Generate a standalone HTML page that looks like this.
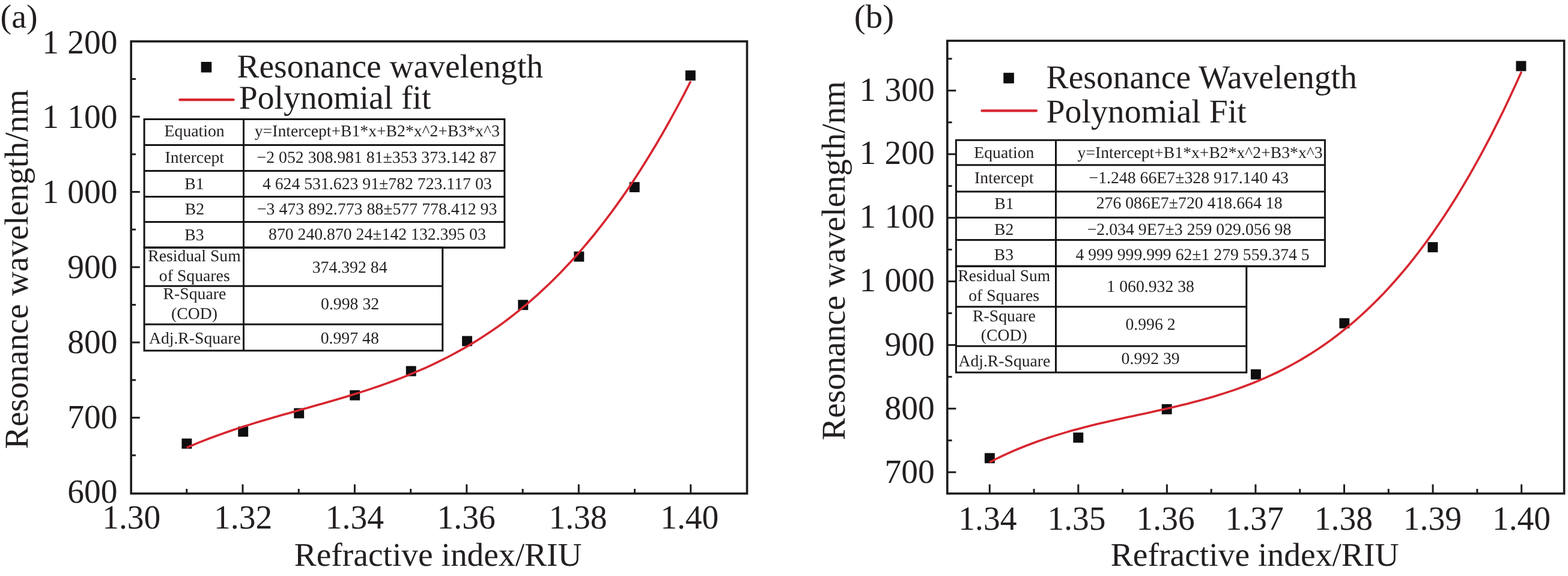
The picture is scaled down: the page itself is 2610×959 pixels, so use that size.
<!DOCTYPE html>
<html lang="en">
<head>
<meta charset="utf-8">
<title>Resonance wavelength versus refractive index</title>
<style>
html, body { margin: 0; padding: 0; background: #ffffff; }
body { width: 2610px; height: 959px; overflow: hidden; }
svg { display: block; }
svg text { font-family: "Liberation Serif", "Times New Roman", serif; white-space: pre; text-rendering: geometricPrecision; }
</style>
</head>
<body>
<svg width="2610" height="959" viewBox="0 0 2610 959">
<rect x="0" y="0" width="2610" height="959" fill="#ffffff"/>
<g id="chart-a">
<g stroke="#1c1c1e" stroke-width="3.0" fill="none">
<line x1="218.20" y1="758.05" x2="226.00" y2="758.05"/>
<line x1="218.20" y1="695.40" x2="232.80" y2="695.40"/>
<line x1="218.20" y1="632.75" x2="226.00" y2="632.75"/>
<line x1="218.20" y1="570.10" x2="232.80" y2="570.10"/>
<line x1="218.20" y1="507.45" x2="226.00" y2="507.45"/>
<line x1="218.20" y1="444.80" x2="232.80" y2="444.80"/>
<line x1="218.20" y1="382.15" x2="226.00" y2="382.15"/>
<line x1="218.20" y1="319.50" x2="232.80" y2="319.50"/>
<line x1="218.20" y1="256.85" x2="226.00" y2="256.85"/>
<line x1="218.20" y1="194.20" x2="232.80" y2="194.20"/>
<line x1="218.20" y1="131.55" x2="226.00" y2="131.55"/>
<line x1="310.78" y1="821.70" x2="310.78" y2="813.90"/>
<line x1="404.00" y1="821.70" x2="404.00" y2="806.40"/>
<line x1="497.22" y1="821.70" x2="497.22" y2="813.90"/>
<line x1="590.43" y1="821.70" x2="590.43" y2="806.40"/>
<line x1="683.65" y1="821.70" x2="683.65" y2="813.90"/>
<line x1="776.86" y1="821.70" x2="776.86" y2="806.40"/>
<line x1="870.08" y1="821.70" x2="870.08" y2="813.90"/>
<line x1="963.29" y1="821.70" x2="963.29" y2="806.40"/>
<line x1="1056.51" y1="821.70" x2="1056.51" y2="813.90"/>
<line x1="1149.72" y1="821.70" x2="1149.72" y2="806.40"/>
<rect x="218.20" y="68.90" width="1025.30" height="752.80" stroke-width="3.6"/>
</g>
<g stroke="#151517" stroke-width="3" fill="#ffffff">
<rect x="240.10" y="198.50" width="599.70" height="213.70"/>
<rect x="240.10" y="412.20" width="496.60" height="171.60"/>
<line x1="240.10" y1="241.60" x2="839.80" y2="241.60"/>
<line x1="240.10" y1="284.40" x2="839.80" y2="284.40"/>
<line x1="240.10" y1="327.40" x2="839.80" y2="327.40"/>
<line x1="240.10" y1="369.60" x2="839.80" y2="369.60"/>
<line x1="240.10" y1="412.20" x2="839.80" y2="412.20"/>
<line x1="240.10" y1="476.20" x2="736.70" y2="476.20"/>
<line x1="240.10" y1="540.00" x2="736.70" y2="540.00"/>
<line x1="405.50" y1="198.50" x2="405.50" y2="583.80"/>
</g>
<g fill="#0e0e10">
<rect x="302.45" y="730.15" width="16.9" height="16.9"/>
<rect x="396.25" y="710.15" width="16.9" height="16.9"/>
<rect x="489.25" y="679.55" width="16.9" height="16.9"/>
<rect x="582.25" y="649.65" width="16.9" height="16.9"/>
<rect x="675.75" y="609.45" width="16.9" height="16.9"/>
<rect x="769.05" y="559.45" width="16.9" height="16.9"/>
<rect x="862.25" y="499.25" width="16.9" height="16.9"/>
<rect x="955.35" y="418.75" width="16.9" height="16.9"/>
<rect x="1047.75" y="303.15" width="16.9" height="16.9"/>
<rect x="1140.85" y="117.25" width="16.9" height="16.9"/>
<rect x="334.65" y="103.00" width="17.6" height="17.6"/>
</g>
<path d="M310.8,745.3 L320.2,741.3 L329.6,737.4 L339.1,733.6 L348.5,730.0 L357.9,726.5 L367.3,723.1 L376.8,719.8 L386.2,716.5 L395.6,713.4 L405.0,710.3 L414.5,707.4 L423.9,704.4 L433.3,701.6 L442.8,698.7 L452.2,696.0 L461.6,693.2 L471.0,690.5 L480.5,687.9 L489.9,685.2 L499.3,682.6 L508.7,679.9 L518.2,677.3 L527.6,674.6 L537.0,671.9 L546.4,669.2 L555.9,666.5 L565.3,663.7 L574.7,660.9 L584.1,658.0 L593.6,655.1 L603.0,652.1 L612.4,649.1 L621.9,645.9 L631.3,642.7 L640.7,639.4 L650.1,636.0 L659.6,632.5 L669.0,628.9 L678.4,625.1 L687.8,621.2 L697.3,617.2 L706.7,613.1 L716.1,608.8 L725.5,604.3 L735.0,599.7 L744.4,595.0 L753.8,590.0 L763.2,584.9 L772.7,579.6 L782.1,574.1 L791.5,568.4 L800.9,562.4 L810.4,556.3 L819.8,549.9 L829.2,543.4 L838.7,536.6 L848.1,529.5 L857.5,522.2 L866.9,514.6 L876.4,506.8 L885.8,498.7 L895.2,490.3 L904.6,481.7 L914.1,472.7 L923.5,463.5 L932.9,454.0 L942.3,444.1 L951.8,433.9 L961.2,423.5 L970.6,412.6 L980.0,401.5 L989.5,390.0 L998.9,378.1 L1008.3,365.9 L1017.8,353.3 L1027.2,340.4 L1036.6,327.1 L1046.0,313.4 L1055.5,299.2 L1064.9,284.7 L1074.3,269.8 L1083.7,254.5 L1093.2,238.8 L1102.6,222.6 L1112.0,206.0 L1121.4,189.0 L1130.9,171.5 L1140.3,153.6 L1149.7,135.2" fill="none" stroke="#d7262f" stroke-width="3.6" stroke-linejoin="round" stroke-linecap="butt"/>
<line x1="299.30" y1="166.10" x2="388.70" y2="166.10" stroke-width="4.2" stroke="#d7262f" stroke-linecap="round"/>
<g fill="#231f20">
<text transform="translate(0.48 45.92) scale(1.0115 1)" font-size="55.4">(a)</text>
<text transform="translate(70.30 88.75) scale(0.9950 1.01)" font-size="55.8" style="word-spacing:0.005em;">1 200</text>
<text transform="translate(70.30 213.45) scale(0.9950 1.01)" font-size="55.8" style="word-spacing:0.005em;">1 100</text>
<text transform="translate(70.30 337.80) scale(0.9950 1.01)" font-size="55.8" style="word-spacing:0.005em;">1 000</text>
<text transform="translate(112.30 462.75) scale(0.9950 1.01)" font-size="55.8" style="word-spacing:0.005em;">900</text>
<text transform="translate(112.30 588.00) scale(0.9950 1.01)" font-size="55.8" style="word-spacing:0.005em;">800</text>
<text transform="translate(112.30 712.70) scale(0.9950 1.01)" font-size="55.8" style="word-spacing:0.005em;">700</text>
<text transform="translate(112.30 836.60) scale(0.9950 1.01)" font-size="55.8" style="word-spacing:0.005em;">600</text>
<text transform="translate(170.20 880.00) scale(0.9950 1.01)" font-size="55.8">1.30</text>
<text transform="translate(356.00 880.00) scale(0.9950 1.01)" font-size="55.8">1.32</text>
<text transform="translate(541.80 880.00) scale(0.9950 1.01)" font-size="55.8">1.34</text>
<text transform="translate(727.60 880.00) scale(0.9950 1.01)" font-size="55.8">1.36</text>
<text transform="translate(913.40 880.00) scale(0.9950 1.01)" font-size="55.8">1.38</text>
<text transform="translate(1099.20 880.00) scale(0.9950 1.01)" font-size="55.8">1.40</text>
<text transform="translate(46.20 747.46) rotate(-90) scale(1.0029 1)" font-size="55.5">Resonance wavelength/nm</text>
<text transform="translate(489.79 941.80) scale(1.0079 1)" font-size="55.0">Refractive index/RIU</text>
<text transform="translate(394.50 128.80) scale(0.9990 1)" font-size="55.5">Resonance wavelength</text>
<text transform="translate(397.80 180.60) scale(1.0016 1)" font-size="55.5">Polynomial fit</text>
<text transform="translate(273.57 227.10) scale(1.0130 1)" font-size="27.4">Equation</text>
<text transform="translate(274.45 271.00) scale(1.0130 1)" font-size="27.4">Intercept</text>
<text transform="translate(307.25 315.00) scale(1.0130 1)" font-size="27.4">B1</text>
<text transform="translate(307.80 357.30) scale(1.0130 1)" font-size="27.4">B2</text>
<text transform="translate(307.30 399.50) scale(1.0130 1)" font-size="27.4">B3</text>
<text transform="translate(246.24 434.70) scale(1.0099 1)" font-size="27.4">Residual Sum</text>
<text transform="translate(264.83 468.00) scale(1.0130 1)" font-size="27.4">of Squares</text>
<text transform="translate(271.55 498.20) scale(1.0130 1)" font-size="27.4">R-Square</text>
<text transform="translate(285.00 531.30) scale(1.0130 1)" font-size="27.4">(COD)</text>
<text transform="translate(247.95 572.30) scale(1.0100 1)" font-size="27.4">Adj.R-Square</text>
<text transform="translate(423.75 227.30) scale(1.0099 1)" font-size="27.4">y=Intercept+B1*x+B2*x^2+B3*x^3</text>
<text transform="translate(427.58 271.30) scale(1.0134 1.02)" font-size="27.4">−2 052 308.981 81±353 373.142 87</text>
<text transform="translate(436.89 314.80) scale(1.0127 1.02)" font-size="27.4">4 624 531.623 91±782 723.117 03</text>
<text transform="translate(427.88 357.30) scale(1.0153 1.02)" font-size="27.4">−3 473 892.773 88±577 778.412 93</text>
<text transform="translate(447.09 399.30) scale(1.0120 1.02)" font-size="27.4">870 240.870 24±142 132.395 03</text>
<text transform="translate(519.67 453.90) scale(1.0130 1.02)" font-size="27.4">374.392 84</text>
<text transform="translate(534.05 515.30) scale(1.0130 1.02)" font-size="27.4">0.998 32</text>
<text transform="translate(533.67 572.30) scale(1.0130 1.02)" font-size="27.4">0.997 48</text>
</g>
</g>
<g id="chart-b">
<g stroke="#1c1c1e" stroke-width="3.0" fill="none">
<line x1="1576.80" y1="786.20" x2="1591.40" y2="786.20"/>
<line x1="1576.80" y1="733.25" x2="1584.60" y2="733.25"/>
<line x1="1576.80" y1="680.30" x2="1591.40" y2="680.30"/>
<line x1="1576.80" y1="627.35" x2="1584.60" y2="627.35"/>
<line x1="1576.80" y1="574.40" x2="1591.40" y2="574.40"/>
<line x1="1576.80" y1="521.45" x2="1584.60" y2="521.45"/>
<line x1="1576.80" y1="468.50" x2="1591.40" y2="468.50"/>
<line x1="1576.80" y1="415.55" x2="1584.60" y2="415.55"/>
<line x1="1576.80" y1="362.60" x2="1591.40" y2="362.60"/>
<line x1="1576.80" y1="309.65" x2="1584.60" y2="309.65"/>
<line x1="1576.80" y1="256.70" x2="1591.40" y2="256.70"/>
<line x1="1576.80" y1="203.75" x2="1584.60" y2="203.75"/>
<line x1="1576.80" y1="150.80" x2="1591.40" y2="150.80"/>
<line x1="1576.80" y1="97.85" x2="1584.60" y2="97.85"/>
<line x1="1647.30" y1="821.70" x2="1647.30" y2="806.40"/>
<line x1="1721.07" y1="821.70" x2="1721.07" y2="813.90"/>
<line x1="1794.85" y1="821.70" x2="1794.85" y2="806.40"/>
<line x1="1868.62" y1="821.70" x2="1868.62" y2="813.90"/>
<line x1="1942.40" y1="821.70" x2="1942.40" y2="806.40"/>
<line x1="2016.17" y1="821.70" x2="2016.17" y2="813.90"/>
<line x1="2089.95" y1="821.70" x2="2089.95" y2="806.40"/>
<line x1="2163.72" y1="821.70" x2="2163.72" y2="813.90"/>
<line x1="2237.50" y1="821.70" x2="2237.50" y2="806.40"/>
<line x1="2311.27" y1="821.70" x2="2311.27" y2="813.90"/>
<line x1="2385.05" y1="821.70" x2="2385.05" y2="806.40"/>
<line x1="2458.82" y1="821.70" x2="2458.82" y2="813.90"/>
<line x1="2532.60" y1="821.70" x2="2532.60" y2="806.40"/>
<rect x="1576.80" y="67.90" width="1026.80" height="753.80" stroke-width="3.6"/>
</g>
<g stroke="#151517" stroke-width="3" fill="#ffffff">
<rect x="1591.40" y="233.30" width="614.00" height="210.00"/>
<rect x="1591.40" y="443.30" width="483.40" height="176.80"/>
<line x1="1591.40" y1="274.70" x2="2205.40" y2="274.70"/>
<line x1="1591.40" y1="319.00" x2="2205.40" y2="319.00"/>
<line x1="1591.40" y1="362.20" x2="2205.40" y2="362.20"/>
<line x1="1591.40" y1="399.50" x2="2205.40" y2="399.50"/>
<line x1="1591.40" y1="443.30" x2="2205.40" y2="443.30"/>
<line x1="1591.40" y1="510.80" x2="2074.80" y2="510.80"/>
<line x1="1591.40" y1="576.20" x2="2074.80" y2="576.20"/>
<line x1="1757.50" y1="233.30" x2="1757.50" y2="620.10"/>
</g>
<g fill="#0e0e10">
<rect x="1638.95" y="754.35" width="16.9" height="16.9"/>
<rect x="1786.35" y="720.15" width="16.9" height="16.9"/>
<rect x="1933.75" y="672.85" width="16.9" height="16.9"/>
<rect x="2081.95" y="614.85" width="16.9" height="16.9"/>
<rect x="2229.35" y="529.75" width="16.9" height="16.9"/>
<rect x="2376.45" y="403.15" width="16.9" height="16.9"/>
<rect x="2523.45" y="101.55" width="16.9" height="16.9"/>
<rect x="1670.30" y="121.20" width="17.6" height="17.6"/>
</g>
<path d="M1647.3,769.6 L1657.2,764.5 L1667.2,759.7 L1677.1,755.1 L1687.1,750.7 L1697.0,746.5 L1707.0,742.5 L1716.9,738.7 L1726.9,735.0 L1736.8,731.6 L1746.8,728.3 L1756.7,725.1 L1766.7,722.1 L1776.6,719.1 L1786.6,716.3 L1796.5,713.7 L1806.5,711.1 L1816.4,708.6 L1826.3,706.1 L1836.3,703.8 L1846.2,701.5 L1856.2,699.2 L1866.1,697.0 L1876.1,694.8 L1886.0,692.7 L1896.0,690.5 L1905.9,688.4 L1915.9,686.2 L1925.8,684.0 L1935.8,681.8 L1945.7,679.5 L1955.7,677.2 L1965.6,674.8 L1975.6,672.4 L1985.5,669.8 L1995.5,667.2 L2005.4,664.5 L2015.3,661.7 L2025.3,658.7 L2035.2,655.6 L2045.2,652.4 L2055.1,649.1 L2065.1,645.5 L2075.0,641.8 L2085.0,638.0 L2094.9,633.9 L2104.9,629.6 L2114.8,625.2 L2124.8,620.5 L2134.7,615.6 L2144.7,610.4 L2154.6,605.0 L2164.6,599.4 L2174.5,593.4 L2184.4,587.2 L2194.4,580.8 L2204.3,574.0 L2214.3,566.9 L2224.2,559.5 L2234.2,551.7 L2244.1,543.7 L2254.1,535.3 L2264.0,526.5 L2274.0,517.4 L2283.9,507.8 L2293.9,497.9 L2303.8,487.7 L2313.8,477.0 L2323.7,465.8 L2333.7,454.3 L2343.6,442.3 L2353.6,429.9 L2363.5,417.0 L2373.4,403.7 L2383.4,389.9 L2393.3,375.6 L2403.3,360.8 L2413.2,345.5 L2423.2,329.7 L2433.1,313.4 L2443.1,296.5 L2453.0,279.1 L2463.0,261.2 L2472.9,242.7 L2482.9,223.6 L2492.8,203.9 L2502.8,183.7 L2512.7,162.8 L2522.7,141.3 L2532.6,119.2" fill="none" stroke="#d7262f" stroke-width="3.6" stroke-linejoin="round" stroke-linecap="butt"/>
<line x1="1634.50" y1="184.40" x2="1725.00" y2="184.40" stroke-width="4.2" stroke="#d7262f" stroke-linecap="round"/>
<g fill="#231f20">
<text transform="translate(1421.83 45.90) scale(1.0293 1)" font-size="55.4">(b)</text>
<text transform="translate(1430.55 167.50) scale(0.9950 1.01)" font-size="55.8" style="word-spacing:0.005em;">1 300</text>
<text transform="translate(1430.55 273.45) scale(0.9950 1.01)" font-size="55.8" style="word-spacing:0.005em;">1 200</text>
<text transform="translate(1430.55 379.45) scale(0.9950 1.01)" font-size="55.8" style="word-spacing:0.005em;">1 100</text>
<text transform="translate(1430.55 485.25) scale(0.9950 1.01)" font-size="55.8" style="word-spacing:0.005em;">1 000</text>
<text transform="translate(1472.55 591.80) scale(0.9950 1.01)" font-size="55.8" style="word-spacing:0.005em;">900</text>
<text transform="translate(1472.55 697.50) scale(0.9950 1.01)" font-size="55.8" style="word-spacing:0.005em;">800</text>
<text transform="translate(1472.55 803.70) scale(0.9950 1.01)" font-size="55.8" style="word-spacing:0.005em;">700</text>
<text transform="translate(1595.35 882.00) scale(0.9950 1.01)" font-size="55.8">1.34</text>
<text transform="translate(1743.45 882.00) scale(0.9950 1.01)" font-size="55.8">1.35</text>
<text transform="translate(1891.55 882.00) scale(0.9950 1.01)" font-size="55.8">1.36</text>
<text transform="translate(2039.65 882.00) scale(0.9950 1.01)" font-size="55.8">1.37</text>
<text transform="translate(2187.75 882.00) scale(0.9950 1.01)" font-size="55.8">1.38</text>
<text transform="translate(2335.85 882.00) scale(0.9950 1.01)" font-size="55.8">1.39</text>
<text transform="translate(2483.95 882.00) scale(0.9950 1.01)" font-size="55.8">1.40</text>
<text transform="translate(1406.20 733.05) rotate(-90) scale(1.0025 1)" font-size="55.5">Resonance wavelength/nm</text>
<text transform="translate(1848.78 941.80) scale(1.0101 1)" font-size="55.0">Refractive index/RIU</text>
<text transform="translate(1741.60 146.90) scale(1.0005 1)" font-size="55.5">Resonance Wavelength</text>
<text transform="translate(1741.59 203.85) scale(1.0046 1)" font-size="55.5">Polynomial Fit</text>
<text transform="translate(1621.20 263.00) scale(1.0130 1)" font-size="27.4">Equation</text>
<text transform="translate(1622.08 305.10) scale(1.0130 1)" font-size="27.4">Intercept</text>
<text transform="translate(1655.25 348.00) scale(1.0130 1)" font-size="27.4">B1</text>
<text transform="translate(1655.05 391.20) scale(1.0130 1)" font-size="27.4">B2</text>
<text transform="translate(1654.65 433.10) scale(1.0130 1)" font-size="27.4">B3</text>
<text transform="translate(1594.45 467.70) scale(1.0049 1)" font-size="27.4">Residual Sum</text>
<text transform="translate(1612.25 500.60) scale(1.0130 1)" font-size="27.4">of Squares</text>
<text transform="translate(1619.05 534.60) scale(1.0130 1)" font-size="27.4">R-Square</text>
<text transform="translate(1632.70 567.00) scale(1.0130 1)" font-size="27.4">(COD)</text>
<text transform="translate(1595.45 610.10) scale(1.0100 1)" font-size="27.4">Adj.R-Square</text>
<text transform="translate(1793.55 263.00) scale(1.0099 1)" font-size="27.4">y=Intercept+B1*x+B2*x^2+B3*x^3</text>
<text transform="translate(1812.48 305.10) scale(1.0138 1.02)" font-size="27.4">−1.248 66E7±328 917.140 43</text>
<text transform="translate(1824.63 346.90) scale(1.0140 1.02)" font-size="27.4">276 086E7±720 418.664 18</text>
<text transform="translate(1809.68 390.70) scale(1.0143 1.02)" font-size="27.4">−2.034 9E7±3 259 029.056 98</text>
<text transform="translate(1790.39 432.90) scale(1.0117 1.02)" font-size="27.4">4 999 999.999 62±1 279 559.374 5</text>
<text transform="translate(1842.37 485.70) scale(1.0125 1.02)" font-size="27.4">1 060.932 38</text>
<text transform="translate(1873.40 549.30) scale(1.0130 1.02)" font-size="27.4">0.996 2</text>
<text transform="translate(1866.60 605.50) scale(1.0130 1.02)" font-size="27.4">0.992 39</text>
</g>
</g>
</svg>
</body>
</html>
